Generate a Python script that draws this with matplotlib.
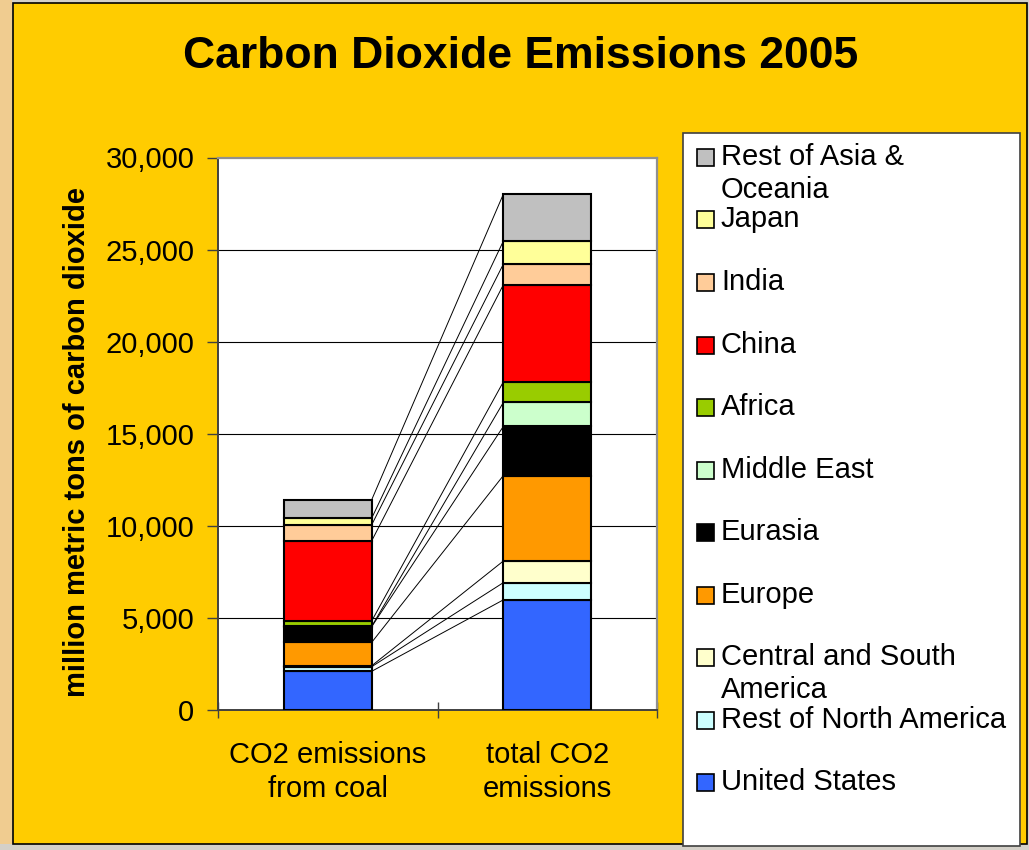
import matplotlib
matplotlib.use("Agg")
import matplotlib.pyplot as plt
import numpy as np
from matplotlib.patches import Rectangle
from matplotlib.ticker import FuncFormatter

plt.rcParams['font.family'] = ['Liberation Sans', 'DejaVu Sans']

categories = ["CO2 emissions\nfrom coal", "total CO2\nemissions"]
regions = ["United States", "Rest of North America", "Central and South America",
           "Europe", "Eurasia", "Middle East", "Africa", "China", "India",
           "Japan", "Rest of Asia & Oceania"]
legend_labels = ["United States", "Rest of North America", "Central and South\nAmerica",
                 "Europe", "Eurasia", "Middle East", "Africa", "China", "India",
                 "Japan", "Rest of Asia &\nOceania"]
coal = [2100, 250, 50, 1270, 850, 20, 290, 4350, 870, 360, 1000]
total = [5980, 935, 1175, 4640, 2670, 1300, 1120, 5270, 1120, 1250, 2550]
colors = ["#3366FF", "#CCFFFF", "#FFFFCC", "#FF9900", "#000000", "#CCFFCC",
          "#99CC00", "#FF0000", "#FFCC99", "#FFFF99", "#C0C0C0"]
yticks = [0, 5000, 10000, 15000, 20000, 25000, 30000]

W, H = 1029, 850
fig = plt.figure(figsize=(W / 100, H / 100), dpi=100, facecolor="#D4D0C8")

def fx(px):
    return px / W

def fy(py):
    return 1 - py / H

# background panels
fig.patches.append(Rectangle((0, fy(844)), fx(12), fy(0) - fy(844), transform=fig.transFigure,
                             facecolor="#F0CC90", edgecolor="none", zorder=-10))
fig.patches.append(Rectangle((fx(12.5), fy(844)), fx(1027) - fx(12.5), fy(3) - fy(844),
                             transform=fig.transFigure, facecolor="#FFCC00",
                             edgecolor="#000000", linewidth=1.2, zorder=-9))

ax = fig.add_axes([fx(218), fy(710), fx(657) - fx(218), fy(157.5) - fy(710)])
ax.set_zorder(1)
ax.set_facecolor("white")

x = np.arange(len(categories))
bw = 0.4
bottoms = np.zeros(2)
for i, r in enumerate(regions):
    vals = np.array([coal[i], total[i]])
    ax.bar(x, vals, bw, bottom=bottoms, color=colors[i], edgecolor="black",
           linewidth=1.5, zorder=3)
    bottoms = bottoms + vals
    # series line connecting the tops of the segments
    ax.plot([x[0] + bw / 2, x[1] - bw / 2], [bottoms[0], bottoms[1]],
            color="black", linewidth=0.7, zorder=2)

ax.set_xlim(-0.5, 1.5)
ax.set_ylim(0, 30000)
ax.set_yticks(yticks)
ax.yaxis.set_major_formatter(FuncFormatter(lambda v, p: f"{int(v):,}"))
for yv in yticks[1:-1]:
    ax.axhline(yv, color="black", linewidth=0.8, zorder=1)

ax.set_xticks([-0.5, 0.5, 1.5])
ax.set_xticklabels([])
ax.set_xticks(x, minor=True)
ax.set_xticklabels(categories, minor=True, fontsize=21, linespacing=1.3)
ax.tick_params(axis="x", which="minor", length=0, pad=22)
ax.tick_params(axis="x", which="major", direction="inout", length=12, width=1, color="#404040")
ax.tick_params(axis="y", direction="out", length=8, width=1, color="#404040",
               labelsize=21, pad=9)

for s in ["top", "right"]:
    ax.spines[s].set_color("#909090")
    ax.spines[s].set_linewidth(1.6)
for s in ["left", "bottom"]:
    ax.spines[s].set_color("#404040")
    ax.spines[s].set_linewidth(1.4)

ax.set_ylabel("million metric tons of carbon dioxide", fontsize=21, fontweight="bold")
ax.yaxis.set_label_coords(fx(91), fy(442), transform=fig.transFigure)

fig.text(fx(521), fy(57), "Carbon Dioxide Emissions 2005", fontsize=32, fontweight="bold",
         ha="center", va="center")

# legend (manual, Excel-like)
fig.patches.append(Rectangle((fx(683), fy(846)), fx(1020) - fx(683), fy(133) - fy(846),
                             transform=fig.transFigure, facecolor="white",
                             edgecolor="#404040", linewidth=1.2, zorder=1))
y_centers = [779, 717, 654, 592, 529, 467, 404, 342, 279, 216, 154]
for i in range(len(regions)):
    yc = y_centers[i]
    fig.patches.append(Rectangle((fx(697), fy(yc + 12)), fx(714) - fx(697), fy(yc - 5) - fy(yc + 12),
                                 transform=fig.transFigure, facecolor=colors[i],
                                 edgecolor="black", linewidth=1.2, zorder=2))
    for j, line in enumerate(legend_labels[i].split("\n")):
        fig.text(fx(721), fy(yc + 11 + 33 * j), line, fontsize=21, ha="left",
                 va="baseline", zorder=3)

fig.savefig("out.png", dpi=100, facecolor=fig.get_facecolor())
